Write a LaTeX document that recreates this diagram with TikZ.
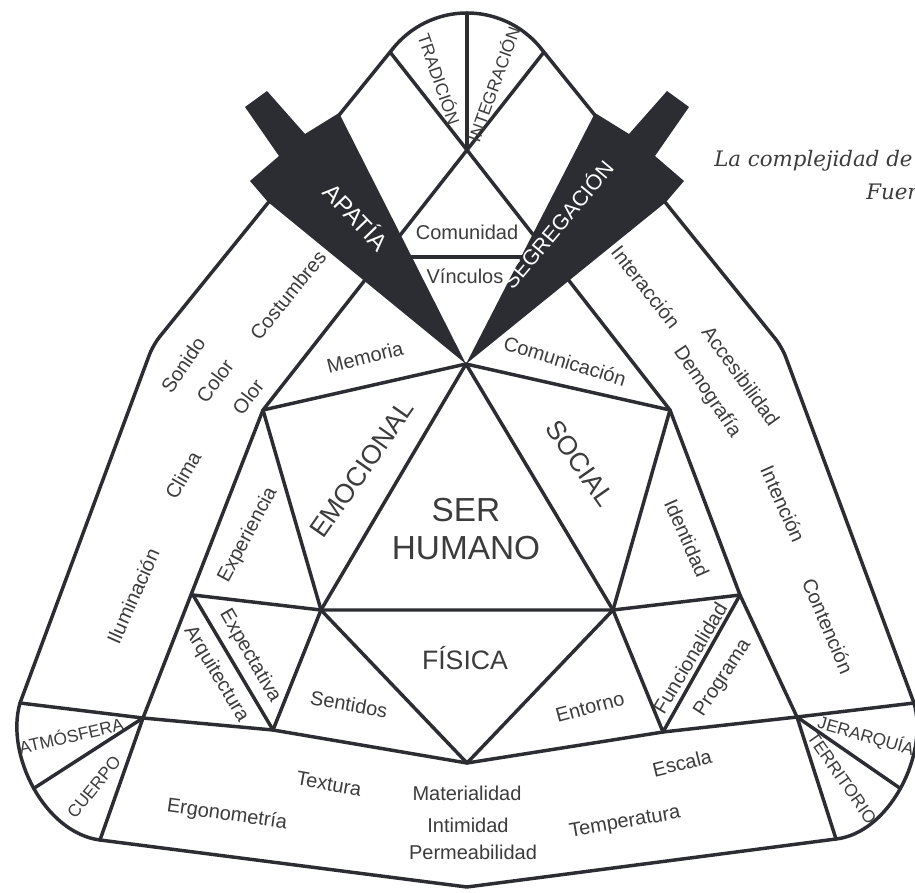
\documentclass[tikz,border=0pt]{standalone}
\usepackage{fontspec}
\setmainfont{Liberation Sans}
\newfontfamily\capfont{DejaVu Serif}
\definecolor{ink}{HTML}{2B2D33}
\definecolor{txt}{HTML}{3C3C3C}
\begin{document}
\begin{tikzpicture}[x=0.75pt,y=-0.75pt,
  ln/.style={draw=ink,line width=2.6pt,line join=round,line cap=round},
  lab/.style={text=txt,font=\fontsize{15}{16}\selectfont,inner sep=0pt},
  caplab/.style={text=txt,font=\fontsize{13}{14}\selectfont,inner sep=0pt},
  big/.style={text=txt,font=\fontsize{20}{22}\selectfont,inner sep=0pt},
  wlab/.style={text=white,font=\fontsize{16}{18}\selectfont,inner sep=0pt},
  caption/.style={text=txt,font=\capfont\itshape\fontsize{16}{18}\selectfont,inner sep=0pt,anchor=base west}]
\clip (0,0) rectangle (915,893);
\fill[white] (0,0) rectangle (915,893);
% key points
\coordinate (T) at (466,364);
\coordinate (UL) at (263,410);
\coordinate (UR) at (670,410);
\coordinate (BL) at (321,610);
\coordinate (BR) at (613,610);
\coordinate (B) at (467,763);
\coordinate (LA) at (193,595);
\coordinate (RA) at (740,595);
\coordinate (LM) at (273,730);
\coordinate (RM) at (663,732);
\coordinate (LC) at (143,718);
\coordinate (RC) at (797,717);
\coordinate (LO) at (20,703);
\coordinate (RO) at (914,703);
\coordinate (X) at (467,150);
\coordinate (Top) at (467,13);
\coordinate (TL) at (390,52);
\coordinate (TR) at (544,52);
\coordinate (AL) at (393.2,48.2);
\coordinate (AR) at (540.8,48.2);
\coordinate (OLB) at (153,345);
\coordinate (ORB) at (782,347);
\coordinate (LB) at (100,840);
\coordinate (RB) at (836,839);
\coordinate (V) at (467,887);
\coordinate (LCa) at (33.75,788.4);
\coordinate (RCa) at (900.25,788.4);
\coordinate (CVl) at (400,257);
\coordinate (CVr) at (534,257);
% inner structure
\draw[ln] (UL) -- (T) -- (UR);
\draw[ln] (T) -- (BL);
\draw[ln] (T) -- (BR);
\draw[ln] (UL) -- (BL) -- (BR) -- (UR);
\draw[ln] (BL) -- (B) -- (BR);
\draw[ln] (LA) -- (BL);
\draw[ln] (LA) -- (LM) -- (BL);
\draw[ln] (RA) -- (BR);
\draw[ln] (RA) -- (RM) -- (BR);
\draw[ln] (X) -- (UL) -- (LC);
\draw[ln] (X) -- (UR) -- (RA) -- (RC);
\draw[ln] (LO) -- (LC) -- (LM) -- (B) -- (RM) -- (RC) -- (RO);
\draw[ln] (LC) -- (LCa);
\draw[ln] (LC) -- (LB);
\draw[ln] (RC) -- (RCa);
\draw[ln] (RC) -- (RB);
\draw[ln] (Top) -- (X);
\draw[ln] (TL) -- (X) -- (TR);
\draw[ln] (CVl) -- (CVr);
% outer boundary
\draw[ln,rounded corners=8pt] (LO) -- (OLB) -- (AL);
\draw[ln] (AL) arc[start angle=219,end angle=321,radius=95];
\draw[ln,rounded corners=8pt] (AR) -- (ORB) -- (RO);
\draw[ln] (LO) .. controls (5,755) and (45,833) .. (LB) -- (V) -- (RB) .. controls (889,833) and (929,755) .. (RO);
% wedges
\fill[ink] (T) -- (339,113) -- (305,134) -- (267,91) -- (245,107) -- (279,156) -- (250,181) -- (268,202) -- cycle;
\fill[ink] (T) -- (595,113) -- (629,134) -- (667,91) -- (689,107) -- (655,156) -- (684,181) -- (666,202) -- cycle;
\node[wlab,font=\fontsize{18}{20}\selectfont,rotate=-46] (apatia) at (357,216) {APATÍA};
\node[wlab,rotate=50] (segregacion) at (557,224) {SEGREGACIÓN};
% labels
\node[caplab,rotate=-71] (tradicion) at (440,79) {TRADICIÓN};
\node[caplab,rotate=70] (integracion) at (493,84) {INTEGRACIÓN};
\node[lab] (comunidad) at (467,232) {Comunidad};
\node[lab] (vinculos) at (465,276) {Vínculos};
\node[lab,rotate=51] (costumbres) at (288,295) {Costumbres};
\node[lab,rotate=14] (memoria) at (365,357) {Memoria};
\node[lab,rotate=56] (sonido) at (183,365) {Sonido};
\node[lab,rotate=54] (color) at (215,381) {Color};
\node[lab,rotate=53] (olor) at (248,397) {Olor};
\node[lab,rotate=60] (clima) at (183,475) {Clima};
\node[lab,rotate=66] (iluminacion) at (133,596) {Iluminación};
\node[lab,rotate=62] (experiencia) at (248,535) {Experiencia};
\node[big,rotate=55] (emocional) at (362,469) {EMOCIONAL};
\node[lab,rotate=-60] (expectativa) at (250,656) {Expectativa};
\node[lab,rotate=-59] (arquitectura) at (216,674) {Arquitectura};
\node[caplab,rotate=13] (atmosfera) at (71,735) {ATMÓSFERA};
\node[caplab,rotate=51] (cuerpo) at (94,787) {CUERPO};
\node[lab,rotate=-8] (ergonometria) at (227,815) {Ergonometría};
\node[lab,rotate=-10] (textura) at (329,784) {Textura};
\node[lab,rotate=-10] (sentidos) at (349,704) {Sentidos};
\node[lab] (materialidad) at (467,793) {Materialidad};
\node[lab] (intimidad) at (468,825) {Intimidad};
\node[lab] (permeabilidad) at (473,852) {Permeabilidad};
\node[big] (fisica) at (465,658) {FÍSICA};
\node[lab,rotate=15] (entorno) at (590,707) {Entorno};
\node[lab,rotate=10] (temperatura) at (625,823) {Temperatura};
\node[lab,rotate=14] (escala) at (682,763) {Escala};
\node[lab,rotate=59] (funcionalidad) at (690,658) {Funcionalidad};
\node[lab,rotate=57] (programa) at (723,678) {Programa};
\node[lab,rotate=-66] (identidad) at (687,538) {Identidad};
\node[big,rotate=-55] (social) at (580,463) {SOCIAL};
\node[lab,rotate=-17] (comunicacion) at (565,361) {Comunicación};
\node[lab,rotate=-52] (interaccion) at (646,287) {Interacción};
\node[lab,rotate=-56] (demografia) at (707,392) {Demografía};
\node[lab,rotate=-54] (accesibilidad) at (741,376) {Accesibilidad};
\node[lab,rotate=-66] (intencion) at (783,504) {Intención};
\node[lab,rotate=-67] (contencion) at (828,626) {Contención};
\node[caplab,rotate=-16] (jerarquia) at (866,736) {JERARQUÍA};
\node[caplab,rotate=-55] (territorio) at (842,778) {TERRITORIO};
\node[text=txt,font=\fontsize{25}{28.5}\selectfont,align=center,inner sep=0pt] (ser) at (466,529) {SER\\HUMANO};
% caption (cut at the right edge)
\node[caption] (cap1) at (714,166) {La complejidad de};
\node[caption] (cap2) at (866,199) {Fuen};
\end{tikzpicture}
\end{document}
